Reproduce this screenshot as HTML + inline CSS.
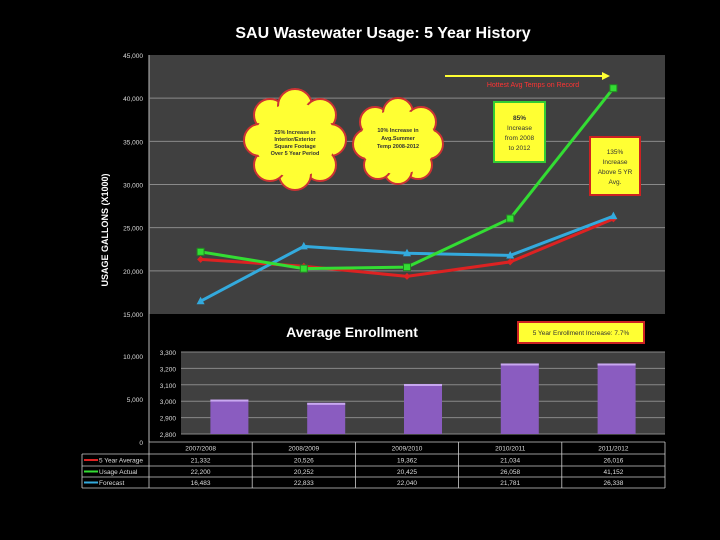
<!DOCTYPE html>
<html><head><meta charset="utf-8">
<style>
body{margin:0;background:#000;}
svg{display:block;font-family:"Liberation Sans",sans-serif;}
</style></head>
<body>
<svg id="c" width="720" height="540" viewBox="0 0 720 540">
<rect x="0" y="0" width="720" height="540" fill="#000"/>
<text x="383" y="38" text-anchor="middle" fill="#fff" font-size="16" font-weight="bold">SAU Wastewater Usage:  5 Year History</text>
<rect x="149" y="55" width="516" height="259" fill="#404040"/>
<line x1="149" y1="55" x2="149" y2="442" stroke="#bbb" stroke-width="1"/>
<g id="grid"></g>
<g id="yticks"></g>
<text transform="translate(108,230) rotate(-90)" text-anchor="middle" fill="#fff" font-size="9" font-weight="bold">USAGE GALLONS  (X1000)</text>
<g fill="#ffff33" stroke="#c33" stroke-width="2">
<circle cx="270" cy="115" r="16"/><circle cx="295" cy="106" r="17"/><circle cx="320" cy="115" r="16"/>
<circle cx="330" cy="140" r="16"/><circle cx="320" cy="165" r="16"/><circle cx="295" cy="174" r="16"/>
<circle cx="270" cy="165" r="16"/><circle cx="260" cy="140" r="16"/>
<ellipse cx="295" cy="140" rx="40" ry="37" stroke="none"/>
<g stroke="none" fill="#333" font-size="5.5" font-weight="bold" text-anchor="middle">
<text x="295" y="134">25% Increase in</text><text x="295" y="141">Interior/Exterior</text>
<text x="295" y="148">Square Footage</text><text x="295" y="155">Over 5 Year Period</text></g>
</g>
<g fill="#ffff33" stroke="#c33" stroke-width="2">
<circle cx="375" cy="122" r="15"/><circle cx="398" cy="113" r="15"/><circle cx="421" cy="122" r="15"/>
<circle cx="428" cy="144" r="15"/><circle cx="418" cy="165" r="14"/><circle cx="398" cy="170" r="14"/>
<circle cx="378" cy="165" r="14"/><circle cx="368" cy="144" r="15"/>
<ellipse cx="398" cy="142" rx="38" ry="32" stroke="none"/>
<g stroke="none" fill="#333" font-size="5.5" font-weight="bold" text-anchor="middle">
<text x="398" y="132">10% Increase in</text><text x="398" y="140">Avg.Summer</text><text x="398" y="148">Temp 2008-2012</text></g>
</g>
<g>
<rect x="494" y="102" width="51" height="60" fill="#ffff33" stroke="#33cc33" stroke-width="2"/>
<text x="519.5" y="120" text-anchor="middle" font-size="6.5" font-weight="bold" fill="#333">85%</text>
<text x="519.5" y="130" text-anchor="middle" font-size="6.5" fill="#333">Increase</text>
<text x="519.5" y="140" text-anchor="middle" font-size="6.5" fill="#333">from 2008</text>
<text x="519.5" y="150" text-anchor="middle" font-size="6.5" fill="#333">to 2012</text>
</g>
<g>
<rect x="590" y="137" width="50" height="58" fill="#ffff33" stroke="#cc2222" stroke-width="2"/>
<text x="615" y="154" text-anchor="middle" font-size="6.5" fill="#333">135%</text>
<text x="615" y="164" text-anchor="middle" font-size="6.5" fill="#333">Increase</text>
<text x="615" y="174" text-anchor="middle" font-size="6.5" fill="#333">Above 5 YR</text>
<text x="615" y="184" text-anchor="middle" font-size="6.5" fill="#333">Avg.</text>
</g>
<g>
<line x1="445" y1="76" x2="604" y2="76" stroke="#ffff33" stroke-width="2"/>
<polygon points="610,76 602,72 602,80" fill="#ffff33"/>
<text x="533" y="87" text-anchor="middle" font-size="7" fill="#ff3333">Hottest Avg Temps on Record</text>
</g>
<g id="lines"></g>
<text x="352" y="337" text-anchor="middle" fill="#fff" font-size="14" font-weight="bold">Average Enrollment</text>
<g>
<rect x="518" y="322" width="126" height="21" fill="#ffff33" stroke="#cc2222" stroke-width="2"/>
<text x="581" y="335" text-anchor="middle" font-size="6.5" fill="#333">5 Year Enrollment  Increase:  7.7%</text>
</g>
<rect x="181" y="352" width="484" height="82" fill="#404040"/>
<g id="egrid"></g>
<g id="bars"></g>
<g id="table"></g>
</svg>
<script>
const categories=["2007/2008","2008/2009","2009/2010","2010/2011","2011/2012"];
const fiveYearAvg=[21332,20526,19362,21034,26016];
const usageActual=[22200,20252,20425,26058,41152];
const forecast=[16483,22833,22040,21781,26338];
const enrollment=[3010,2990,3105,3230,3230];
const usageTicks=[15000,20000,25000,30000,35000,40000,45000];
const lowTicks=[0,5000,10000];
const enrollTicks=[2800,2900,3000,3100,3200,3300];
const NS="http://www.w3.org/2000/svg";
function mk(t,a,p){const e=document.createElementNS(NS,t);for(const k in a)e.setAttribute(k,a[k]);p.appendChild(e);return e;}
const x0=149,cw=103.2;
const xc=i=>x0+cw*(i+0.5);
const ex0=181,ecw=96.8;
const xb=i=>ex0+ecw*(i+0.5);
const yU=v=>314-(v-15000)/30000*259;
const yLow=v=>442-v/10000*86;
const yE=v=>434-(v-2800)/500*82;
const fmt=v=>v.toLocaleString("en-US");
const grid=document.getElementById("grid"),yt=document.getElementById("yticks"),eg=document.getElementById("egrid");
usageTicks.forEach(v=>{
 if(v>15000&&v<45000){const l=mk("line",{x1:149,x2:665,y1:yU(v),y2:yU(v),stroke:"#8a8a8a","stroke-width":1},grid);
 
 }
 const t=mk("text",{x:143,y:yU(v)+3,"text-anchor":"end",fill:"#ddd","font-size":6.5},yt);t.textContent=fmt(v);
 
 
});
lowTicks.forEach(v=>{const t=mk("text",{x:143,y:yLow(v)+3,"text-anchor":"end",fill:"#ddd","font-size":6.5},yt);t.textContent=fmt(v);
 
 });
enrollTicks.forEach(v=>{
 const l=mk("line",{x1:181,x2:665,y1:yE(v),y2:yE(v),stroke:"#888","stroke-width":1},eg);
 
 
 const t=mk("text",{x:176,y:yE(v)+3,"text-anchor":"end",fill:"#ddd","font-size":6.5},yt);t.textContent=fmt(v);
 
 });
const lines=document.getElementById("lines");
const series=[[fiveYearAvg,"#dd2222","diamond","five-year-average-line"],[forecast,"#33aadd","tri","forecast-line"],[usageActual,"#33dd33","sq","usage-actual-line"]];
series.forEach(([d,c,m,n])=>{
 const p=mk("polyline",{points:d.map((v,i)=>xc(i)+","+yU(v)).join(" "),fill:"none",stroke:c,"stroke-width":3},lines);
 
 
 d.forEach((v,i)=>{const x=xc(i),y=yU(v);let e;
  if(m=="sq")e=mk("rect",{x:x-3.5,y:y-3.5,width:7,height:7,fill:c,stroke:"#228822"},lines);
  else if(m=="tri")e=mk("polygon",{points:`${x},${y-4.5} ${x-4},${y+3} ${x+4},${y+3}`,fill:c},lines);
  else e=mk("polygon",{points:`${x},${y-3.5} ${x+3.5},${y} ${x},${y+3.5} ${x-3.5},${y}`,fill:c},lines);
  
  });
});
const bars=document.getElementById("bars");
enrollment.forEach((v,i)=>{const w=38;
 const r=mk("rect",{x:xb(i)-w/2,y:yE(v),width:w,height:434-yE(v),fill:"#8a5cc0"},bars);
 
 
 mk("rect",{x:xb(i)-w/2,y:yE(v),width:w,height:2,fill:"#c8a8f0"},bars);
});
const tb=document.getElementById("table");
const rowsY=[442,454,466,477,488];
[["5 Year Average",fiveYearAvg,"#dd2222"],["Usage Actual",usageActual,"#33dd33"],["Forecast",forecast,"#33aadd"]].forEach(([lab,d,c],r)=>{
 const yy=(rowsY[r+1]+rowsY[r+2])/2;
 mk("line",{x1:84,x2:98,y1:yy,y2:yy,stroke:c,"stroke-width":2},tb);
 const t=mk("text",{x:99,y:yy+2.5,fill:"#ddd","font-size":6.5},tb);t.textContent=lab;
 
 
 d.forEach((v,i)=>{const tt=mk("text",{x:xc(i),y:yy+2.5,"text-anchor":"middle",fill:"#ddd","font-size":6.5},tb);tt.textContent=fmt(v);
  
  });
});
categories.forEach((c,i)=>{const t=mk("text",{x:xc(i),y:450.5,"text-anchor":"middle",fill:"#ddd","font-size":6.5},tb);t.textContent=c;
 
 });
rowsY.forEach((y,r)=>mk("line",{x1:r==0?149:82,x2:665,y1:y,y2:y,stroke:"#ccc","stroke-width":0.8},tb));
for(let i=0;i<=5;i++)mk("line",{x1:x0+cw*i,x2:x0+cw*i,y1:442,y2:488,stroke:"#ccc","stroke-width":0.8},tb);
mk("line",{x1:82,x2:82,y1:454,y2:488,stroke:"#ccc","stroke-width":0.8},tb);
</script>
</body></html>
